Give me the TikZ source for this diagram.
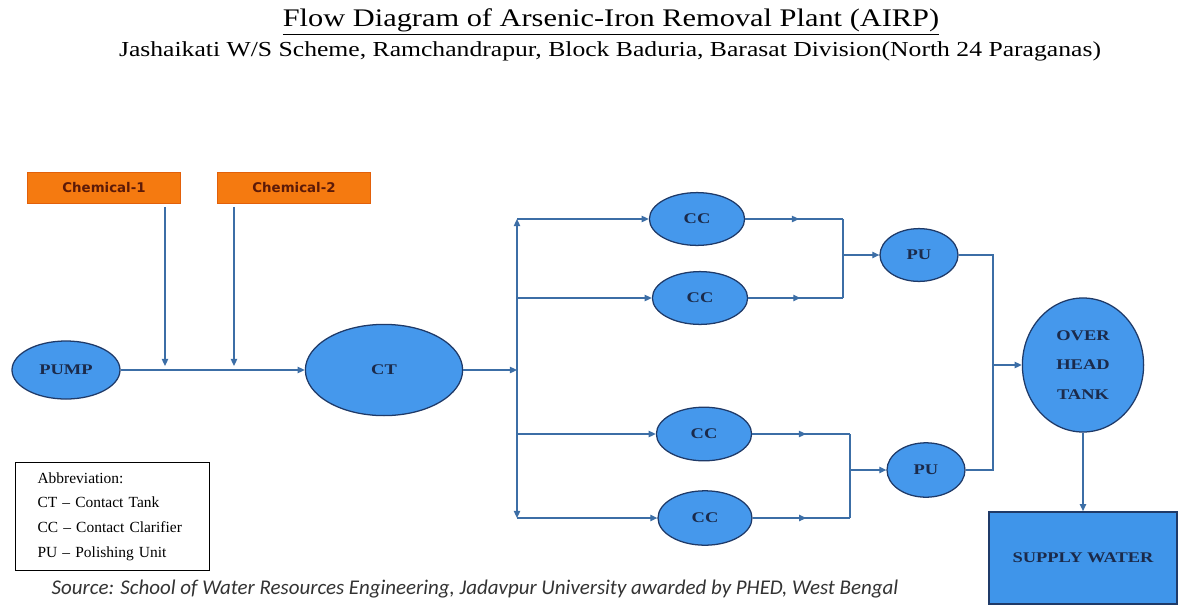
\documentclass[tikz,border=0pt]{standalone}
\usepackage{fontspec}
\setmainfont{Liberation Serif}
\newfontfamily\headfont{Liberation Serif}[FakeStretch=1.2]
\newfontfamily\unitfont{Liberation Serif}[FakeStretch=1.25]
\newfontfamily\chemfont{DejaVu Sans}
\newfontfamily\srcfont{Carlito}
\usepackage{tikz}
\usetikzlibrary{arrows.meta,positioning,shapes.geometric,decorations.markings}
\definecolor{unitc}{HTML}{4598EC}
\definecolor{edgec}{HTML}{1F3A68}
\definecolor{flowc}{HTML}{3C6EA6}
\definecolor{orgc}{HTML}{F57A10}
\definecolor{orge}{HTML}{E2600A}
\definecolor{chemt}{HTML}{5C1A08}
\definecolor{labc}{HTML}{1B2A4A}
\definecolor{supc}{HTML}{3F95EA}
\tikzset{
  unit/.style={ellipse,draw=edgec,line width=0.9pt,fill=unitc,inner sep=0pt,text=labc,
    font=\unitfont\bfseries\fontsize{10.5}{12}\selectfont},
  chembox/.style={rectangle,fill=orgc,draw=orge,line width=0.8pt,minimum width=3.83cm,
    minimum height=0.78cm,text=chemt,font=\chemfont\bfseries\fontsize{9.5}{11}\selectfont},
  ar/.style={-{Triangle[length=5pt,width=4.5pt]},line width=0.9pt,flowc},
  ln/.style={line width=0.9pt,flowc},
  midar/.style={ln,postaction={decorate},
    decoration={markings,mark=at position 0.55 with {\arrow{Triangle[length=5pt,width=4.5pt]}}}}
}
\begin{document}
\begin{tikzpicture}[x=0.025cm,y=-0.025cm]
\useasboundingbox (0,0) rectangle (1178,606);
\node[font=\headfont\fontsize{18}{20}\selectfont] (title) at (611,22)
  {\underline{Flow Diagram of Arsenic-Iron Removal Plant (AIRP)}};
\node[font=\headfont\fontsize{15.2}{18}\selectfont] (sub) at (610,51)
  {Jashaikati W/S Scheme, Ramchandrapur, Block Baduria, Barasat Division(North 24 Paraganas)};
\node[chembox] (chem1) at (104,188) {Chemical-1};
\node[chembox] (chem2) at (294,188) {Chemical-2};
\node[unit,minimum width=2.7cm,minimum height=1.45cm] (pump) at (66,370) {PUMP};
\node[unit,minimum width=3.93cm,minimum height=2.28cm] (ct) at (384,370) {CT};
\node[unit,minimum width=2.38cm,minimum height=1.32cm] (cc1) at (697,219) {CC};
\node[unit,minimum width=2.38cm,minimum height=1.32cm] (cc2) at (700,298) {CC};
\node[unit,minimum width=2.38cm,minimum height=1.34cm] (cc3) at (704,434) {CC};
\node[unit,minimum width=2.35cm,minimum height=1.36cm] (cc4) at (705,518) {CC};
\node[unit,minimum width=1.95cm,minimum height=1.32cm] (pu1) at (919,255) {PU};
\node[unit,minimum width=1.95cm,minimum height=1.36cm] (pu2) at (926,470) {PU};
\node[unit,minimum width=3.03cm,minimum height=3.35cm,align=center,
  font=\unitfont\bfseries\fontsize{10.5}{21}\selectfont] (oht) at (1083,365) {OVER\\HEAD\\TANK};
\node[rectangle,fill=supc,draw=edgec,line width=1.2pt,minimum width=4.7cm,minimum height=2.3cm,
  text=labc,font=\unitfont\bfseries\fontsize{10.5}{12}\selectfont] (supply) at (1083,558) {SUPPLY WATER};
\coordinate (j1) at (165,366); \coordinate (j2) at (234,366);
\coordinate (bm) at (517,370); \coordinate (bt) at (517,219); \coordinate (bb) at (517,518);
\coordinate (b2) at (517,298); \coordinate (b3) at (517,434);
\coordinate (k1) at (843,219); \coordinate (k2) at (843,298); \coordinate (km1) at (843,255);
\coordinate (k3) at (850,434); \coordinate (k4) at (850,518); \coordinate (km2) at (850,470);
\coordinate (p1) at (993,255); \coordinate (p2) at (993,470); \coordinate (pm) at (993,365);
\draw[ar,shorten <=2pt] (chem1.south -| j1) -- (j1);
\draw[ar,shorten <=2pt] (chem2.south -| j2) -- (j2);
\draw[ar] (pump) -- (ct);
\draw[ar] (ct) -- (bm);
\draw[ar] (bm) -- (bt);
\draw[ar] (bm) -- (bb);
\draw[ar] (bt) -- (cc1);
\draw[ar] (b2) -- (cc2);
\draw[ar] (b3) -- (cc3);
\draw[ar] (bb) -- (cc4);
\draw[midar] (cc1) -- (k1);
\draw[midar] (cc2) -- (k2);
\draw[ln] (k1) -- (k2);
\draw[ar] (km1) -- (pu1);
\draw[midar] (cc3) -- (k3);
\draw[midar] (cc4) -- (k4);
\draw[ln] (k3) -- (k4);
\draw[ar] (km2) -- (pu2);
\draw[ln] (pu1) -- (p1) -- (p2) -- (pu2);
\draw[ar] (pm) -- (oht);
\draw[ar] (oht) -- (supply);
\node[draw=black,line width=0.8pt,anchor=north west,inner xsep=0.55cm,text width=3.75cm,
  minimum height=2.7cm,align=left,font=\fontsize{11}{17.5}\selectfont] (legend) at (15,462)
  {Abbreviation:\\CT -- Contact Tank\\CC -- Contact Clarifier\\PU -- Polishing Unit};
\node[font=\srcfont\itshape\fontsize{14.9}{17}\selectfont,text=black!80] (src) at (475,589)
  {Source: School of Water Resources Engineering, Jadavpur University awarded by PHED, West Bengal};
\end{tikzpicture}
\end{document}
